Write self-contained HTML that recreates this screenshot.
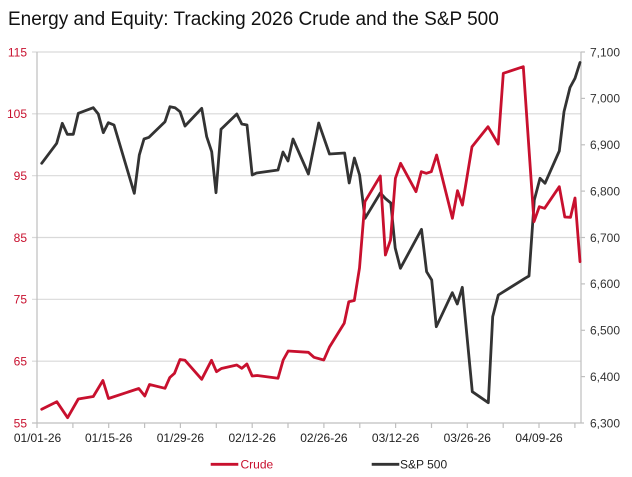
<!DOCTYPE html>
<html>
<head>
<meta charset="utf-8">
<style>
  html, body { margin:0; padding:0; background:#ffffff; }
  body { width:632px; height:477px; overflow:hidden; }
  svg { display:block; }
  text { font-family: "Liberation Sans", Arial, sans-serif; }
</style>
</head>
<body>
<svg width="632" height="477" viewBox="0 0 632 477" xmlns="http://www.w3.org/2000/svg">
  <rect x="0" y="0" width="632" height="477" fill="#ffffff"/>
  <!-- Title -->
  <text x="8" y="25" font-size="19" fill="#111111">Energy and Equity: Tracking 2026 Crude and the S&amp;P 500</text>

  <!-- Gridlines -->
  <g stroke="#d9d9d9" stroke-width="1.2">
    <line x1="32" y1="52" x2="581" y2="52"/>
    <line x1="32" y1="113.8" x2="581" y2="113.8"/>
    <line x1="32" y1="175.7" x2="581" y2="175.7"/>
    <line x1="32" y1="237.5" x2="581" y2="237.5"/>
    <line x1="32" y1="299.3" x2="581" y2="299.3"/>
    <line x1="32" y1="361.2" x2="581" y2="361.2"/>
  </g>

  <!-- Axes -->
  <g stroke="#bfbfbf" stroke-width="1.2">
    <line x1="37" y1="52" x2="37" y2="423"/>
    <line x1="581" y1="52" x2="581" y2="423"/>
    <line x1="32" y1="423" x2="584" y2="423"/>
    <!-- x ticks -->
    <line x1="37" y1="423" x2="37" y2="428"/>
    <line x1="72.9" y1="423" x2="72.9" y2="428"/>
    <line x1="108.7" y1="423" x2="108.7" y2="428"/>
    <line x1="144.6" y1="423" x2="144.6" y2="428"/>
    <line x1="180.4" y1="423" x2="180.4" y2="428"/>
    <line x1="216.3" y1="423" x2="216.3" y2="428"/>
    <line x1="252.2" y1="423" x2="252.2" y2="428"/>
    <line x1="288" y1="423" x2="288" y2="428"/>
    <line x1="323.9" y1="423" x2="323.9" y2="428"/>
    <line x1="359.8" y1="423" x2="359.8" y2="428"/>
    <line x1="395.6" y1="423" x2="395.6" y2="428"/>
    <line x1="431.5" y1="423" x2="431.5" y2="428"/>
    <line x1="467.3" y1="423" x2="467.3" y2="428"/>
    <line x1="503.2" y1="423" x2="503.2" y2="428"/>
    <line x1="539" y1="423" x2="539" y2="428"/>
    <line x1="574.9" y1="423" x2="574.9" y2="428"/>
    <!-- right ticks -->
    <line x1="581" y1="52" x2="585" y2="52"/>
    <line x1="581" y1="98.4" x2="585" y2="98.4"/>
    <line x1="581" y1="144.8" x2="585" y2="144.8"/>
    <line x1="581" y1="191.1" x2="585" y2="191.1"/>
    <line x1="581" y1="237.5" x2="585" y2="237.5"/>
    <line x1="581" y1="283.9" x2="585" y2="283.9"/>
    <line x1="581" y1="330.3" x2="585" y2="330.3"/>
    <line x1="581" y1="376.6" x2="585" y2="376.6"/>
  </g>

  <!-- Left axis labels -->
  <g font-size="12" fill="#c8102e" text-anchor="end">
    <text x="27" y="56.3">115</text>
    <text x="27" y="118.1">105</text>
    <text x="27" y="180">95</text>
    <text x="27" y="241.8">85</text>
    <text x="27" y="303.6">75</text>
    <text x="27" y="365.5">65</text>
    <text x="27" y="427.3">55</text>
  </g>

  <!-- Right axis labels -->
  <g font-size="12" fill="#333333" text-anchor="start">
    <text x="590" y="56.3">7,100</text>
    <text x="590" y="102.7">7,000</text>
    <text x="590" y="149.1">6,900</text>
    <text x="590" y="195.4">6,800</text>
    <text x="590" y="241.8">6,700</text>
    <text x="590" y="288.2">6,600</text>
    <text x="590" y="334.6">6,500</text>
    <text x="590" y="380.9">6,400</text>
    <text x="590" y="427.3">6,300</text>
  </g>

  <!-- X labels -->
  <g font-size="12" fill="#222222" text-anchor="middle">
    <text x="37.5" y="442">01/01-26</text>
    <text x="108.7" y="442">01/15-26</text>
    <text x="180.4" y="442">01/29-26</text>
    <text x="252.2" y="442">02/12-26</text>
    <text x="323.9" y="442">02/26-26</text>
    <text x="395.6" y="442">03/12-26</text>
    <text x="467.3" y="442">03/26-26</text>
    <text x="539" y="442">04/09-26</text>
  </g>

  <!-- S&P 500 -->
  <polyline fill="none" stroke="#333333" stroke-width="2.8" stroke-linejoin="round" stroke-linecap="round"
    points="41.7,163.3 56.7,143.3 62.3,123.3 67.3,134.3 73.3,134.3 78.3,113.3 93.3,107.7 98.3,114 103.3,132.7 108.3,122.7 114,125 134.3,193.3 139.3,155 144,139 149,137.3 165,121.7 170,106.7 175,107.7 180,111.7 185,126 201.7,108.3 206.7,136.7 211.7,151.7 216,192.7 221,129.3 236.8,114 241.8,124 247,125 252.2,175 256.5,173 278,170 283,152 288,161 293,139 308.4,174 318.7,123 329.5,154 344.6,153 349.2,183 354.4,158 359.6,175 365,218.3 380.3,193 385.4,198.5 390.8,203 395.2,248 400.4,268.3 421.5,229.3 426.6,271.7 431.7,280 436.3,326.7 452.3,292.7 457.3,304 462.3,287.3 472.3,391.7 488.3,402.7 492.7,316.7 498.3,295 525,278.3 529,276 534.3,200 540,178.3 545,183.3 559.3,151 564,111.7 570,87.5 575,78.3 580,62.5"/>

  <!-- Crude -->
  <polyline fill="none" stroke="#c8102e" stroke-width="2.8" stroke-linejoin="round" stroke-linecap="round"
    points="41.7,409.3 56.8,401.7 67.6,417.7 78.3,399 93.3,396.5 102.9,380.5 108.5,398.5 138.8,388.5 144.8,396 149.5,384.5 165,388.3 169.8,377.5 174.5,373.3 180,359.5 185,360.3 201.7,379.3 211.5,360.3 216.5,371.7 221.4,368.5 236.8,365 241.8,368.3 246.9,364 252.2,376 257.3,375.5 278,378.3 283.2,360 288.2,351 308.4,352.3 314,357.3 323.8,360 329.5,347 344.2,323.3 348.8,301.7 354.3,300.5 359.5,268 364.9,201.7 380.3,176 385.4,255 390.5,240 395.4,178.3 400.6,163.3 416,191.7 421.3,171.7 426.3,173.3 431.3,171.7 436.6,155 452.4,218.3 457.5,190.7 462.4,205 472,146.7 488,126.7 498.2,144 503.3,73.3 523.3,66.7 534,221.7 539.3,206.7 544.6,208.3 559.3,186.7 564.8,217 570.5,217.3 575,198 580,261.7"/>

  <!-- Legend -->
  <line x1="210.7" y1="464.3" x2="238.3" y2="464.3" stroke="#c8102e" stroke-width="2.8"/>
  <text x="240.5" y="468.5" font-size="12" fill="#c8102e">Crude</text>
  <line x1="371.7" y1="464.3" x2="399.3" y2="464.3" stroke="#333333" stroke-width="2.8"/>
  <text x="400" y="468.5" font-size="12" fill="#222222">S&amp;P 500</text>
</svg>
</body>
</html>
